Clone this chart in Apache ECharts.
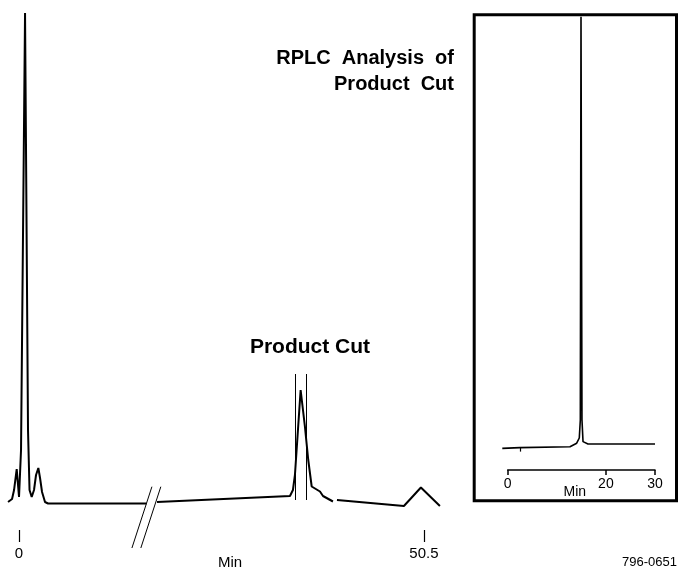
<!DOCTYPE html>
<html>
<head>
<meta charset="utf-8">
<script src="https://cdn.jsdelivr.net/npm/echarts@6/dist/echarts.min.js"></script>
<style>
  html, body { margin: 0; padding: 0; background: #fff; }
  #chart { width: 678px; height: 579px; }
</style>
</head>
<body>
<div id="chart"></div>
<script>
// Preparative run: retention time (min) and detector signal (relative units).
// null marks a gap in the recorded trace.
var mainTime = [-1.37, -0.87, -0.62, -0.29, 0.0, 0.19, 0.25, 0.75, 1.12, 1.31, 1.58, 1.87, 2.12, 2.41, 2.62, 2.87, 3.24, 3.62, 15.9,
                16.5,
                17.21, 33.79, 34.16, 34.41, 35.12, 35.66, 36.07, 36.50, 37.53, 37.91, 39.15,
                39.4,
                39.65, 48.0, 50.12, 52.49];
var mainSignal = [5.6, 6.2, 8, 12.2, 6.6, 7, 16, 103.4, 20, 8, 6.6, 8, 11, 12.4, 10.4, 7.6, 5.6, 5.3, 5.3,
                  null,
                  5.6, 6.8, 8, 11, 28, 20.6, 14, 8.7, 7.7, 6.8, 5.7,
                  null,
                  6, 4.8, 8.5, 4.8];
var mainTicks = [0, 50.5];
var cutWindow = [34.41, 35.87];      // fraction collected
var cutMarkSpan = [6, 31.2];         // vertical extent of the cut lines (signal units)
var breakAt = [15.89, 17.0];         // time-axis break

// RPLC analysis of the collected fraction
var insetTime = [-1.1, 2.5, 12.69, 14.05, 14.58, 14.79, 14.93, 15.13, 15.34, 16.35, 30.0];
var insetSignal = [1.4, 1.6, 1.8, 2.7, 4, 8.5, 109.3, 8.5, 3.1, 2.5, 2.5];
var insetTicks = [0, 20, 30];
var injectionAt = 2.5;

var FONT = '"Liberation Sans", Arial, Helvetica, sans-serif';

function pairs(xs, ys) {
  return xs.map(function (x, i) { return ys[i] === null ? [x, '-'] : [x, ys[i]]; });
}

var chart = echarts.init(document.getElementById('chart'), null, { renderer: 'canvas' });

var option = {
  animation: false,
  backgroundColor: '#ffffff',
  textStyle: { fontFamily: FONT, color: '#000' },
  grid: [
    { left: 7, right: 234, top: 10, bottom: 49, outerBoundsMode: 'none', containLabel: false },      // main trace
    { left: 501.8, right: 23, top: 14, height: 440, outerBoundsMode: 'none', containLabel: false },   // inset trace
    { left: 507.7, right: 23, top: 469, height: 1, outerBoundsMode: 'none', containLabel: false }     // inset time axis
  ],
  xAxis: [
    {
      gridIndex: 0, type: 'value', min: -1.5, max: 53,
      axisLine: { show: false },
      splitLine: { show: false },
      axisTick: { show: true, customValues: mainTicks, length: 12, lineStyle: { color: '#000', width: 1.2 } },
      axisLabel: { show: true, customValues: mainTicks, margin: 16, fontSize: 15, color: '#000', fontFamily: FONT },
      name: 'Min', nameLocation: 'middle', nameGap: 25, nameMoveOverlap: false,
      nameTextStyle: { fontSize: 15, color: '#000', fontFamily: FONT, padding: [0, 0, 0, 9] }
    },
    {
      gridIndex: 1, type: 'value', min: -1.2, max: 30, show: false
    },
    {
      gridIndex: 2, type: 'value', min: 0, max: 30, position: 'bottom',
      axisLine: { show: true, onZero: false, lineStyle: { color: '#000', width: 1.5 } },
      splitLine: { show: false },
      axisTick: { show: true, customValues: insetTicks, length: 5, lineStyle: { color: '#000', width: 1.5 } },
      axisLabel: { show: true, customValues: insetTicks, margin: 7, fontSize: 14, color: '#000', fontFamily: FONT },
      name: 'Min', nameLocation: 'middle', nameGap: 15, nameMoveOverlap: false,
      nameTextStyle: { fontSize: 14, color: '#000', fontFamily: FONT, padding: [0, 13, 0, 0] }
    }
  ],
  yAxis: [
    { gridIndex: 0, type: 'value', min: 0, max: 104, show: false },
    { gridIndex: 1, type: 'value', min: 0, max: 110, show: false },
    { gridIndex: 2, type: 'value', min: 0, max: 1, show: false }
  ],
  series: [
    {
      name: 'Preparative trace', type: 'line', xAxisIndex: 0, yAxisIndex: 0,
      data: pairs(mainTime, mainSignal),
      showSymbol: false, connectNulls: false, silent: true, clip: false,
      lineStyle: { color: '#000', width: 2 },
      markLine: {
        silent: true, symbol: ['none', 'none'], label: { show: false },
        lineStyle: { color: '#000', width: 1, type: 'solid' },
        data: cutWindow.map(function (t) {
          return [{ coord: [t, cutMarkSpan[0]] }, { coord: [t, cutMarkSpan[1]] }];
        })
      }
    },
    {
      name: 'RPLC trace', type: 'line', xAxisIndex: 1, yAxisIndex: 1,
      data: pairs(insetTime, insetSignal),
      showSymbol: false, silent: true, clip: false,
      lineStyle: { color: '#000', width: 1.6 },
      markLine: {
        silent: true, symbol: ['none', 'none'], label: { show: false },
        lineStyle: { color: '#000', width: 1.2, type: 'solid' },
        data: [[{ coord: [injectionAt, 1.6] }, { coord: [injectionAt, 0.6] }]]
      }
    }
  ]
};

chart.setOption(option);

// Annotations, inset frame and the axis-break slashes
var graphics = [
  {
    type: 'rect', silent: true, z: 10,
    shape: { x: 474.2, y: 14.8, width: 202.3, height: 486 },
    style: { fill: 'none', stroke: '#000', lineWidth: 3 }
  },
  {
    type: 'text', silent: true,
    style: { text: 'Product Cut', x: 310, y: 347, align: 'center', verticalAlign: 'middle',
             font: 'bold 21px ' + FONT, fill: '#000' }
  },
  {
    type: 'text', silent: true,
    style: { text: 'RPLC  Analysis  of', x: 454, y: 58, align: 'right', verticalAlign: 'middle',
             font: 'bold 20px ' + FONT, fill: '#000' }
  },
  {
    type: 'text', silent: true,
    style: { text: 'Product  Cut', x: 454, y: 84, align: 'right', verticalAlign: 'middle',
             font: 'bold 20px ' + FONT, fill: '#000' }
  },
  {
    type: 'text', silent: true,
    style: { text: '796-0651', x: 677, y: 562, align: 'right', verticalAlign: 'middle',
             font: '13px ' + FONT, fill: '#000' }
  }
];

breakAt.forEach(function (t) {
  var p = chart.convertToPixel({ xAxisIndex: 0, yAxisIndex: 0 }, [t, 5.3]);
  var slope = 0.326;
  graphics.push({
    type: 'line', silent: true,
    shape: { x1: p[0] - (548 - p[1]) * slope, y1: 548, x2: p[0] + (p[1] - 486.7) * slope, y2: 486.7 },
    style: { stroke: '#000', lineWidth: 1 }
  });
});

chart.setOption({ graphic: graphics });
</script>
</body>
</html>
